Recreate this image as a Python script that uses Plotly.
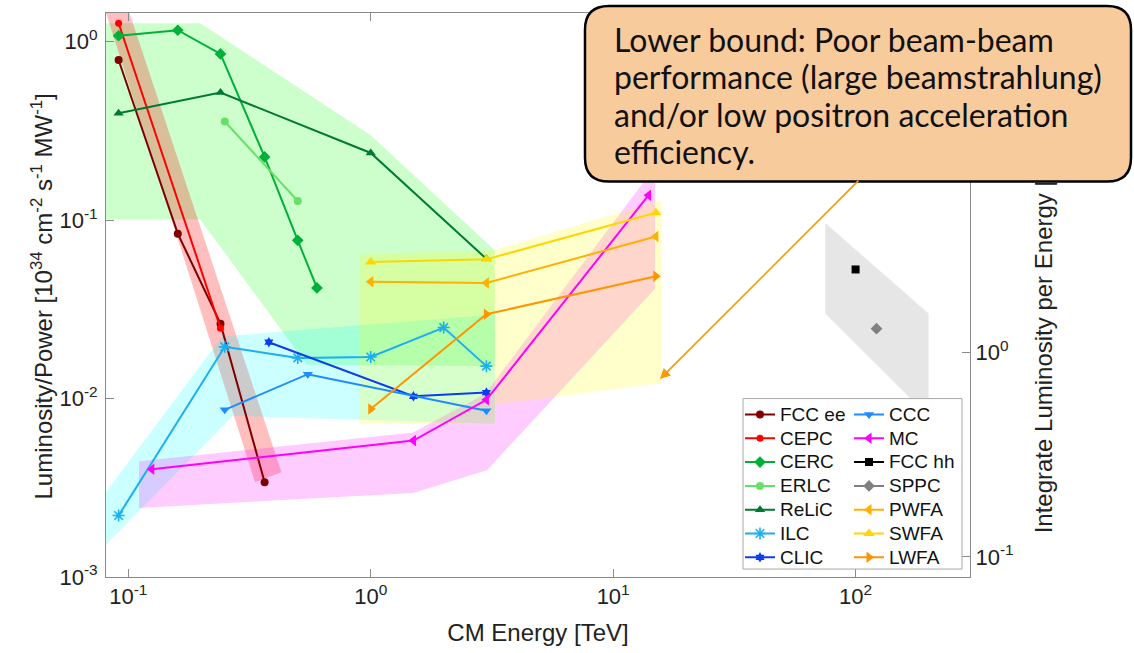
import plotly.graph_objects as go
import math

# ---------------- data (CM energy in TeV, luminosity/power) ----------------
FCC_EE_E = [0.0912, 0.16, 0.24, 0.365]
FCC_EE_L = [0.79, 0.084, 0.0263, 0.0034]
CEPC_E = [0.0912, 0.24]
CEPC_L = [1.27, 0.0248]
CERC_E = [0.0912, 0.16, 0.24, 0.365, 0.5, 0.6]
CERC_L = [1.08, 1.16, 0.854, 0.226, 0.0771, 0.0417]
ERLC_E = [0.25, 0.5]
ERLC_L = [0.357, 0.128]
RELIC_E = [0.0912, 0.24, 1.0, 3.0]
RELIC_L = [0.397, 0.519, 0.238, 0.0607]
ILC_E = [0.0912, 0.25, 0.5, 1.0, 2.0, 3.0]
ILC_L = [0.00221, 0.0195, 0.0169, 0.0171, 0.025, 0.0152]
CLIC_E = [0.38, 1.5, 3.0]
CLIC_L = [0.0207, 0.0103, 0.0108]
CCC_E = [0.25, 0.55, 3.0]
CCC_L = [0.00865, 0.0137, 0.00855]
MC_E = [0.125, 1.5, 3.0, 14.0]
MC_L = [0.00402, 0.00582, 0.00984, 0.138]
PWFA_E = [1.0, 3.0, 15.0]
PWFA_L = [0.0451, 0.0445, 0.0809]
SWFA_E = [1.0, 3.0, 15.0]
SWFA_L = [0.0582, 0.0603, 0.110]
LWFA_E = [1.0, 3.0, 15.0]
LWFA_L = [0.00873, 0.0297, 0.0485]
# hadron colliders (right axis: integrated luminosity per energy)
FCCHH_E = [100.0]
FCCHH_L = [2.53]
SPPC_E = [122.0]
SPPC_L = [1.30]

# ---------------- shaded regions (polygon vertices) ----------------
CIRC_REG_E = [0.073, 0.198, 1.0, 3.25, 3.25, 0.545, 0.198, 0.073]
CIRC_REG_L = [1.27, 1.27, 0.299, 0.0679, 0.0152, 0.0155, 0.101, 0.101]
FCC_REG_E = [0.0732, 0.0911, 0.4285, 0.3332]
FCC_REG_L = [2.23, 2.23, 0.00387, 0.0034]
LIN_REG_E = [0.073, 0.2435, 3.25, 3.25, 0.2703, 0.073]
LIN_REG_L = [0.00248, 0.0223, 0.0296, 0.00723, 0.00801, 0.00132]
MC_REG_E = [0.1107, 1.494, 2.962, 13.29, 14.89, 14.89, 3.018, 1.494, 0.1107]
MC_REG_L = [0.00445, 0.00645, 0.0106, 0.162, 0.162, 0.0412, 0.00397, 0.00296, 0.00244]
PLASMA_REG_E = [0.897, 3.22, 15.87, 15.87, 3.26, 3.26, 0.897]
PLASMA_REG_L = [0.0642, 0.0679, 0.1303, 0.01223, 0.00923, 0.00721, 0.00721]
HADRON_REG_E = [75.0, 200.0, 200.0, 75.0]
HADRON_REG_L = [4.26, 1.544, 0.485, 1.544]

X_TICKS = [0.1, 1, 10, 100]
X_TICKTEXT = ["10<sup>-1</sup>", "10<sup>0</sup>", "10<sup>1</sup>", "10<sup>2</sup>"]
Y_TICKS = [0.001, 0.01, 0.1, 1]
Y_TICKTEXT = ["10<sup>-3</sup>", "10<sup>-2</sup>", "10<sup>-1</sup>", "10<sup>0</sup>"]
Y2_TICKS = [0.1, 1]
Y2_TICKTEXT = ["10<sup>-1</sup>", "10<sup>0</sup>"]

CALLOUT_TEXT = ["Lower bound: Poor beam-beam",
                "performance (large beamstrahlung)",
                "and/or low positron acceleration",
                "efficiency."]

FONT = "Liberation Sans, Arial, Helvetica, sans-serif"
W, H = 1134, 653
ML, MR, MT, MB = 106, 164, 13, 71
PW, PH = W - ML - MR, H - MT - MB


def px2paper(px, py):
    return (px - ML) / PW, (H - MB - py) / PH


fig = go.Figure()

regions = [
    (CIRC_REG_E, CIRC_REG_L, "rgba(0,255,0,0.2)", "y"),
    (FCC_REG_E, FCC_REG_L, "rgba(255,0,0,0.25)", "y"),
    (LIN_REG_E, LIN_REG_L, "rgba(0,255,255,0.2)", "y"),
    (MC_REG_E, MC_REG_L, "rgba(255,0,255,0.2)", "y"),
    (PLASMA_REG_E, PLASMA_REG_L, "rgba(255,255,0,0.2)", "y"),
    (HADRON_REG_E, HADRON_REG_L, "rgba(128,128,128,0.2)", "y2"),
]
for ex, ly, col, ax in regions:
    fig.add_trace(go.Scatter(x=ex, y=ly, fill="toself", fillcolor=col, mode="lines",
                             line=dict(width=0, color=col), showlegend=False,
                             hoverinfo="skip", yaxis=ax))

series = [
    ("FCC ee", FCC_EE_E, FCC_EE_L, "#800000", "circle", 8, "legend", "y"),
    ("CEPC", CEPC_E, CEPC_L, "#FF0000", "circle", 7, "legend", "y"),
    ("CERC", CERC_E, CERC_L, "#00B038", "diamond", 9, "legend", "y"),
    ("ERLC", ERLC_E, ERLC_L, "#66E066", "circle", 8, "legend", "y"),
    ("ReLiC", RELIC_E, RELIC_L, "#007A33", "triangle-up", 9, "legend", "y"),
    ("ILC", ILC_E, ILC_L, "#1AAFEF", "asterisk-open", 10, "legend", "y"),
    ("CLIC", CLIC_E, CLIC_L, "#0A3CF0", "hexagram", 8, "legend", "y"),
    ("CCC", CCC_E, CCC_L, "#1E8CFF", "triangle-down", 9, "legend2", "y"),
    ("MC", MC_E, MC_L, "#FF00FF", "triangle-left", 10, "legend2", "y"),
    ("FCC hh", FCCHH_E, FCCHH_L, "#000000", "square", 8, "legend2", "y2"),
    ("SPPC", SPPC_E, SPPC_L, "#808080", "diamond", 9, "legend2", "y2"),
    ("PWFA", PWFA_E, PWFA_L, "#FFB000", "triangle-left", 10, "legend2", "y"),
    ("SWFA", SWFA_E, SWFA_L, "#FFD700", "triangle-up", 10, "legend2", "y"),
    ("LWFA", LWFA_E, LWFA_L, "#FF9500", "triangle-right", 10, "legend2", "y"),
]
LEGEND_TEXT_STYLE = '<span style="font-size:19px">{}</span>'
for name, ex, ly, col, sym, sz, leg, ax in series:
    mk = dict(symbol=sym, size=sz, color=col)
    if sym.endswith("open"):
        mk["line"] = dict(width=1.6, color=col)
    fig.add_trace(go.Scatter(x=ex, y=ly, name=LEGEND_TEXT_STYLE.format(name), mode="lines+markers",
                             line=dict(color=col, width=2), marker=mk,
                             legend=leg, yaxis=ax))

axis_common = dict(type="log", showgrid=False, zeroline=False, showline=True,
                   linecolor="#8A8A8A", linewidth=1, ticks="inside", ticklen=8,
                   tickcolor="#8A8A8A", tickfont=dict(family=FONT, size=22, color="#222"))

fig.update_layout(
    width=W, height=H,
    margin=dict(l=ML, r=MR, t=MT, b=MB),
    paper_bgcolor="white", plot_bgcolor="white",
    hovermode=False,
    font=dict(family=FONT, color="#222"),
    xaxis=dict(range=[-1.092, 2.472], tickvals=X_TICKS, ticktext=X_TICKTEXT,
               mirror="ticks",
               title=dict(text="CM Energy [TeV]", font=dict(size=24, family=FONT), standoff=15),
               **axis_common),
    yaxis=dict(range=[-3.0, 0.161], tickvals=Y_TICKS, ticktext=Y_TICKTEXT,
               ticklabelstandoff=3, **axis_common),
    yaxis2=dict(range=[-1.098, 1.655], tickvals=Y2_TICKS, ticktext=Y2_TICKTEXT,
                overlaying="y", side="right", **axis_common),
    legend=dict(x=px2paper(740, 0)[0], y=px2paper(0, 401)[1], xanchor="left", yanchor="top",
                bgcolor="rgba(0,0,0,0)", borderwidth=0,
                font=dict(family=FONT, size=16, color="#111")),
    legend2=dict(x=px2paper(849, 0)[0], y=px2paper(0, 401)[1], xanchor="left", yanchor="top",
                 bgcolor="rgba(0,0,0,0)", borderwidth=0,
                 font=dict(family=FONT, size=16, color="#111")),
)

# left axis title
fig.add_annotation(xref="paper", yref="paper", x=px2paper(42, 0)[0], y=px2paper(0, 299)[1],
                   xanchor="center", yanchor="middle", textangle=-90, showarrow=False,
                   text="Luminosity/Power [10<sup>34</sup> cm<sup>-2</sup> s<sup>-1</sup> MW<sup>-1</sup>]",
                   font=dict(family=FONT, size=24, color="#222"))

# legend frame
lx0, ly0 = px2paper(743, 402)
lx1, ly1 = px2paper(962, 574)
fig.add_shape(type="rect", xref="paper", yref="paper", x0=lx0, y0=ly1, x1=lx1, y1=ly0,
              fillcolor="white", line=dict(color="#A8A8A8", width=1), layer="above")


def rounded_path(x0, y0, x1, y1, r):
    def P(px, py):
        a, b = px2paper(px, py)
        return f"{a:.5f},{b:.5f}"
    pts = ["M" + P(x0 + r, y0), "L" + P(x1 - r, y0),
           "Q" + P(x1, y0) + " " + P(x1, y0 + r), "L" + P(x1, y1 - r),
           "Q" + P(x1, y1) + " " + P(x1 - r, y1), "L" + P(x0 + r, y1),
           "Q" + P(x0, y1) + " " + P(x0, y1 - r), "L" + P(x0, y0 + r),
           "Q" + P(x0, y0) + " " + P(x0 + r, y0)]
    return " ".join(pts) + " Z"


# right axis title (rest hidden under the callout)
fig.add_annotation(xref="paper", yref="paper", x=px2paper(1043, 0)[0], y=px2paper(0, 540)[1],
                   xanchor="center", yanchor="bottom", textangle=-90, showarrow=False,
                   text="Integrate Luminosity per Energy [",
                   font=dict(family=FONT, size=24, color="#222"))

# callout box
fig.add_shape(type="path", xref="paper", yref="paper", path=rounded_path(585, 6, 1131, 183, 24),
              fillcolor="#F8CB9D", line=dict(color="black", width=2.5), layer="above")
CALLOUT_LINE_Y = [40, 77.5, 115, 152.5]
for txt, yy in zip(CALLOUT_TEXT, CALLOUT_LINE_Y):
    fig.add_annotation(xref="paper", yref="paper", x=px2paper(612, 0)[0], y=px2paper(0, yy)[1],
                       xanchor="left", yanchor="middle", align="left", showarrow=False,
                       text=txt, font=dict(family="Lato", size=32, color="#111"))

# arrow from callout to the plasma region
fig.add_annotation(x=math.log10(15.6), y=math.log10(0.01286), xref="x", yref="y",
                   ax=200, ay=-200, text="", showarrow=True, arrowhead=2, arrowsize=1.3,
                   arrowwidth=1.6, arrowcolor="#FF9900")

fig.write_html("out.html")
